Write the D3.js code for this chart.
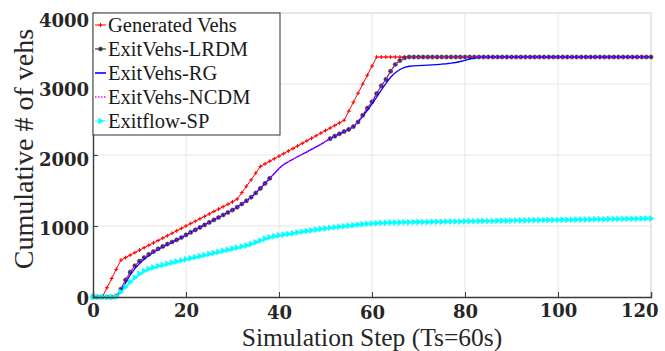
<!DOCTYPE html>
<html>
<head>
<meta charset="utf-8">
<script src="https://cdn.jsdelivr.net/npm/d3@7"></script>
<style>
  html, body { margin: 0; padding: 0; background: #fff; }
  svg { display: block; }
  .serif { font-family: "Liberation Serif", serif; }
</style>
</head>
<body>
<svg id="chart" width="665" height="351"></svg>
<script>
// Simulation steps 0..120 (one sample per step)
const steps = [
  0,1,2,3,4,5,6,7,8,9,10,11,12,13,14,15,16,17,18,19,20,
  21,22,23,24,25,26,27,28,29,30,31,32,33,34,35,36,37,38,39,40,
  41,42,43,44,45,46,47,48,49,50,51,52,53,54,55,56,57,58,59,60,
  61,62,63,64,65,66,67,68,69,70,71,72,73,74,75,76,77,78,79,80,
  81,82,83,84,85,86,87,88,89,90,91,92,93,94,95,96,97,98,99,100,
  101,102,103,104,105,106,107,108,109,110,111,112,113,114,115,116,117,118,119,120
];

// Cumulative generated vehicles
const generatedVehs = [
  0,0,0,130,260,390,520,555,590,625,660,694,728,762,796,830,864,898,932,966,1000,
  1034,1068,1102,1136,1170,1204,1238,1272,1306,1340,1380,1470,1560,1650,1745,1840,1876,1912,1948,1984,
  2020,2056,2092,2128,2164,2200,2236,2272,2308,2344,2380,2416,2452,2490,2617,2744,2871,2998,3125,3252,
  3380,3380,3380,3380,3380,3380,3380,3380,3380,3380,3380,3380,3380,3380,3380,3380,3380,3380,3380,3380,
  3380,3380,3380,3380,3380,3380,3380,3380,3380,3380,3380,3380,3380,3380,3380,3380,3380,3380,3380,3380,
  3380,3380,3380,3380,3380,3380,3380,3380,3380,3380,3380,3380,3380,3380,3380,3380,3380,3380,3380,3380
];

// Cumulative exited vehicles, LRDM (no samples logged for steps 39-50)
const exitLRDM = [
  0,0,0,0,0,10,110,240,350,440,505,555,600,640,678,712,745,775,805,838,875,
  910,945,980,1015,1050,1085,1120,1155,1190,1225,1265,1310,1355,1405,1465,1530,1600,1670,null,null,
  null,null,null,null,null,null,null,null,null,null,2230,2265,2298,2330,2360,2400,2465,2560,2660,2750,
  2865,2975,3065,3180,3275,3330,3368,3380,3380,3380,3380,3380,3380,3380,3380,3380,3380,3380,3380,3380,
  3380,3380,3380,3380,3380,3380,3380,3380,3380,3380,3380,3380,3380,3380,3380,3380,3380,3380,3380,3380,
  3380,3380,3380,3380,3380,3380,3380,3380,3380,3380,3380,3380,3380,3380,3380,3380,3380,3380,3380,3380
];

// Cumulative exited vehicles, RG
const exitRG = [
  0,0,0,0,0,5,80,200,310,400,470,530,585,630,670,705,738,770,800,833,870,
  910,945,980,1015,1050,1085,1120,1155,1190,1225,1265,1310,1355,1405,1465,1530,1600,1670,1740,1810,
  1865,1905,1940,1975,2010,2045,2080,2115,2150,2190,2230,2265,2298,2330,2360,2400,2465,2545,2630,2720,
  2815,2915,3010,3095,3160,3205,3235,3250,3256,3260,3263,3266,3270,3274,3279,3285,3293,3303,3317,3333,
  3350,3365,3375,3380,3380,3380,3380,3380,3380,3380,3380,3380,3380,3380,3380,3380,3380,3380,3380,3380,
  3380,3380,3380,3380,3380,3380,3380,3380,3380,3380,3380,3380,3380,3380,3380,3380,3380,3380,3380,3380
];

// Cumulative exited vehicles, NCDM
const exitNCDM = [
  0,0,0,0,0,10,110,240,350,440,505,555,600,640,678,712,745,775,805,838,875,
  910,945,980,1015,1050,1085,1120,1155,1190,1225,1265,1310,1355,1405,1465,1530,1600,1670,1740,1810,
  1865,1905,1940,1975,2010,2045,2080,2115,2150,2190,2230,2265,2298,2330,2360,2400,2465,2560,2660,2750,
  2865,2975,3065,3180,3275,3330,3368,3380,3380,3380,3380,3380,3380,3380,3380,3380,3380,3380,3380,3380,
  3380,3380,3380,3380,3380,3380,3380,3380,3380,3380,3380,3380,3380,3380,3380,3380,3380,3380,3380,3380,
  3380,3380,3380,3380,3380,3380,3380,3380,3380,3380,3380,3380,3380,3380,3380,3380,3380,3380,3380,3380
];

// Cumulative exit flow, SP
const exitflowSP = [
  0,0,0,0,0,5,70,140,210,270,325,365,395,415,435,452,468,484,500,515,530,
  545,560,575,590,605,620,635,650,665,680,695,710,725,745,770,795,820,840,855,868,
  878,888,898,908,918,928,938,948,958,966,974,982,990,997,1004,1011,1018,1025,1031,1036,
  1040,1044,1046,1048,1050,1051,1052,1054,1055,1056,1057,1058,1059,1060,1061,1062,1063,1064,1065,1066,
  1067,1068,1069,1070,1071,1072,1073,1074,1075,1076,1077,1078,1079,1080,1081,1082,1083,1084,1085,1086,
  1087,1088,1089,1090,1091,1092,1093,1094,1095,1096,1097,1098,1099,1100,1101,1102,1103,1104,1105,1106
];

const seriesNames = ["Generated Vehs", "ExitVehs-LRDM", "ExitVehs-RG", "ExitVehs-NCDM", "Exitflow-SP"];
const xTickValues = [0, 20, 40, 60, 80, 100, 120];
const yTickValues = [0, 1000, 2000, 3000, 4000];
const xTitle = "Simulation Step (Ts=60s)";
const yTitle = "Cumulative # of vehs";

// ---- layout ----
const svg = d3.select("#chart");
const W = 665, H = 351;
const plot = { left: 93, right: 651, top: 13, bottom: 297 };

const x = d3.scaleLinear().domain([0, 120]).range([plot.left, plot.right]);
const y = d3.scaleLinear().domain([0, 4000]).range([plot.bottom, plot.top]);

const tickFont = "DejaVu Serif, serif";

svg.append("rect").attr("width", W).attr("height", H).attr("fill", "#fff");

// grid
const grid = svg.append("g").attr("stroke", "#e6e6e6").attr("stroke-width", 1);
grid.selectAll("line.gx").data(xTickValues.slice(1)).join("line")
  .attr("x1", d => x(d)).attr("x2", d => x(d))
  .attr("y1", plot.top).attr("y2", plot.bottom);
grid.selectAll("line.gy").data(yTickValues.slice(1)).join("line")
  .attr("x1", plot.left).attr("x2", plot.right)
  .attr("y1", d => y(d)).attr("y2", d => y(d));

// light frame on top / right
svg.append("path")
  .attr("d", `M${plot.left},${plot.top}H${plot.right}V${plot.bottom}`)
  .attr("fill", "none").attr("stroke", "#d9d9d9").attr("stroke-width", 1);

// series definitions
const series = [
  { name: seriesNames[0], values: generatedVehs, color: "#ff0000", width: 1, dash: null, marker: "plus" },
  { name: seriesNames[1], values: exitLRDM, color: "#111111", width: 1, dash: null, marker: "dot" },
  { name: seriesNames[2], values: exitRG, color: "#0000ff", width: 1.3, dash: null, marker: null },
  { name: seriesNames[3], values: exitNCDM, color: "#ff00ff", width: 1.3, dash: "1.5,1.5", marker: null },
  { name: seriesNames[4], values: exitflowSP, color: "#00ffff", width: 1.3, dash: null, marker: "tri" }
];

const line = d3.line()
  .defined(d => d[1] !== null)
  .x(d => x(d[0]))
  .y(d => y(d[1]));

function drawMarker(g, kind, color, cx, cy) {
  if (kind === "plus") {
    g.append("path")
      .attr("d", `M${cx - 2},${cy}H${cx + 2}M${cx},${cy - 2}V${cy + 2}`)
      .attr("stroke", color).attr("stroke-width", 1).attr("fill", "none");
  } else if (kind === "dot") {
    g.append("circle").attr("cx", cx).attr("cy", cy).attr("r", 2.1)
      .attr("fill", "#333").attr("stroke", "#555").attr("stroke-width", 0.6);
  } else if (kind === "tri") {
    g.append("path")
      .attr("d", `M${cx + 3},${cy}L${cx - 2},${cy - 3}L${cx - 2},${cy + 3}Z`)
      .attr("fill", color).attr("stroke", color).attr("stroke-width", 0.5);
  }
}

const marks = svg.append("g");
series.forEach(s => {
  const pts = steps.map((t, i) => [t, s.values[i]]);
  const g = marks.append("g");
  g.append("path")
    .attr("d", line(pts))
    .attr("fill", "none")
    .attr("stroke", s.color)
    .attr("stroke-width", s.width)
    .attr("stroke-dasharray", s.dash);
  if (s.marker) {
    pts.filter(p => p[1] !== null).forEach(p => drawMarker(g, s.marker, s.color, x(p[0]), y(p[1])));
  }
});

// axes (inward ticks)
const xAxis = d3.axisBottom(x).tickValues(xTickValues).tickSize(-5).tickFormat(d => d);
const yAxis = d3.axisLeft(y).tickValues(yTickValues).tickSize(-5).tickFormat(d => d);

const gx = svg.append("g").attr("transform", `translate(0,${plot.bottom})`).call(xAxis);
const gy = svg.append("g").attr("transform", `translate(${plot.left},0)`).call(yAxis);

[gx, gy].forEach(g => {
  g.attr("font-family", null).attr("font-size", null);
  g.select(".domain").attr("stroke", "#3a3a3a").attr("stroke-width", 1.4);
  g.selectAll(".tick line").attr("stroke", "#3a3a3a").attr("stroke-width", 1);
  g.selectAll(".tick text")
    .style("font-family", tickFont)
    .style("font-weight", "bold")
    .style("font-size", "18px")
    .attr("fill", "#262626");
});

// x tick labels: 40/60 sit a little lower
const xLabelDrop = { 40: 2, 60: 2, 80: 1 };
gx.selectAll(".tick text")
  .attr("y", d => 20 + (xLabelDrop[d] || 0))
  .attr("dy", 0)
  .attr("text-anchor", d => d === 120 ? "end" : "middle")
  .attr("dx", d => d === 120 ? 7 : 0);

// y tick labels: baseline drifts slightly with value
gy.selectAll(".tick text")
  .attr("x", -4)
  .attr("dy", d => 7 + 6 * d / 4000);

// axis titles
svg.append("text")
  .attr("class", "serif")
  .attr("x", 372)
  .attr("y", 346)
  .attr("text-anchor", "middle")
  .style("font-size", "25.5px")
  .attr("fill", "#262626")
  .text(xTitle);

svg.append("text")
  .attr("class", "serif")
  .attr("transform", `translate(33,149) rotate(-90)`)
  .attr("text-anchor", "middle")
  .style("font-size", "28px")
  .attr("fill", "#262626")
  .text(yTitle);

// legend
const legend = svg.append("g");
legend.append("rect")
  .attr("x", plot.left).attr("y", plot.top)
  .attr("width", 187).attr("height", 122)
  .attr("fill", "#fff").attr("stroke", "#333").attr("stroke-width", 1);

series.forEach((s, i) => {
  const cy = 25 + i * 24;
  const g = legend.append("g");
  g.append("line")
    .attr("x1", 95).attr("x2", 106)
    .attr("y1", cy).attr("y2", cy)
    .attr("stroke", s.color)
    .attr("stroke-width", s.marker ? 1 : 1.6)
    .attr("stroke-dasharray", s.dash);
  if (s.marker) drawMarker(g, s.marker, s.color, 100.5, cy);
  g.append("text")
    .attr("class", "serif")
    .attr("x", 108).attr("y", cy + 6.5)
    .style("font-size", "20.5px")
    .attr("fill", "#1a1a1a")
    .text(s.name);
});
</script>
</body>
</html>
